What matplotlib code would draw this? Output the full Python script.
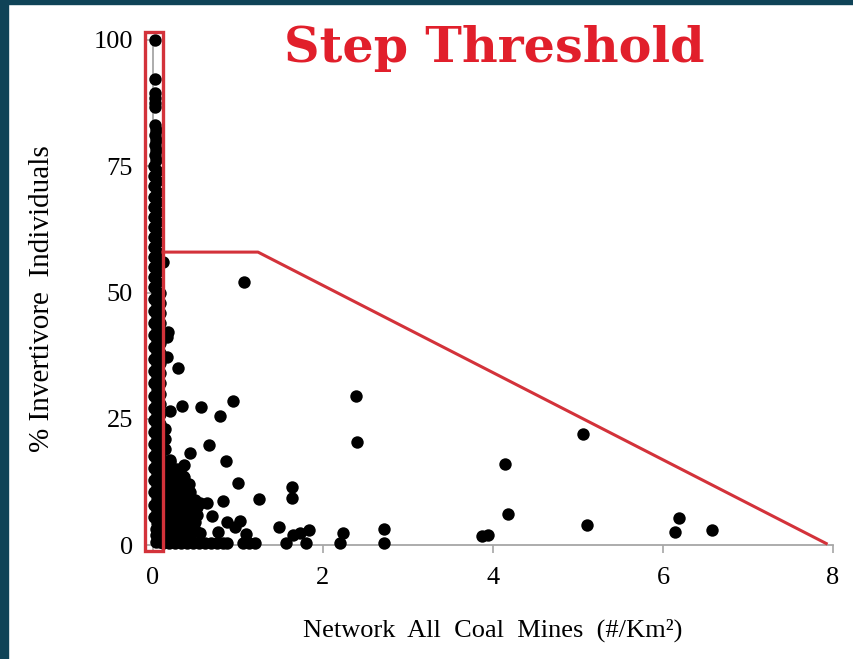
import matplotlib.pyplot as plt
from matplotlib.patches import Rectangle

# dense column of sites right at ~0 mines/km2
column_x = [0.02, 0.02, 0.02, 0.02, 0.02, 0.02, 0.02, 0.03, 0.02, 0.03,
            0.02, 0.03, 0.02, 0.03, 0.01, 0.05, 0.01, 0.05, 0.01, 0.05,
            0.01, 0.05, 0.01, 0.05, 0.01, 0.05, 0.01, 0.05, 0.01, 0.05,
            0.01, 0.05, 0.01, 0.05, 0.01, 0.05, 0.01, 0.05, 0.01, 0.05,
            0.01, 0.05, 0.01, 0.05, 0.01, 0.05, 0.01, 0.05, 0.01, 0.05,
            0.01, 0.05, 0.01, 0.05, 0.01, 0.05, 0.01, 0.05, 0.01, 0.05,
            0.01, 0.05, 0.01, 0.05, 0.01, 0.05, 0.01, 0.05, 0.01, 0.05,
            0.01, 0.05, 0.01, 0.05, 0.01, 0.05, 0.01, 0.05]
column_y = [100, 92.3, 89.6, 88.6, 87.6, 86.7, 83.2, 82.2, 81.2, 80.2,
            79.2, 78.2, 77.2, 76.2, 75, 74, 73, 72, 71, 70,
            69, 68, 67, 66, 65, 64, 63, 62, 61, 60,
            59, 58, 57, 56, 55, 54, 53, 52, 51, 50,
            48.8, 47.6, 46.4, 45.2, 44, 42.8, 41.6, 40.4, 39.2, 38,
            36.8, 35.6, 34.4, 33.2, 32, 30.8, 29.6, 28.4, 27.2, 26,
            24.8, 23.6, 22.4, 21.2, 20, 18.8, 17.6, 16.4, 15.2, 14,
            12.8, 11.6, 10.4, 9.2, 8, 6.8, 5.6, 4.4]
column2_x = [0.08, 0.08, 0.08, 0.08, 0.08, 0.08, 0.08, 0.08, 0.08, 0.08,
             0.08, 0.08, 0.08, 0.08, 0.08, 0.08, 0.08, 0.08, 0.08, 0.08,
             0.08, 0.08, 0.08, 0.08, 0.08, 0.08, 0.03, 0.03, 0.03]
column2_y = [50, 48, 46, 44, 42, 40, 38, 36, 34, 32,
             30, 28, 26, 24, 22, 20, 18, 16, 14, 12,
             10, 8, 6, 4, 2, 0.5, 3.2, 2, 0.6]

# low-density wedge next to the column
wedge_x = [0.12, 0.2,
           0.12, 0.2, 0.28,
           0.12, 0.2, 0.28, 0.36,
           0.12, 0.2, 0.28, 0.36, 0.42,
           0.12, 0.2, 0.28, 0.36, 0.44,
           0.12, 0.2, 0.28, 0.36, 0.44, 0.5,
           0.12, 0.2, 0.28, 0.36, 0.44, 0.52,
           0.12, 0.2, 0.28, 0.36, 0.44, 0.52,
           0.12, 0.2, 0.28, 0.36, 0.44, 0.5,
           0.12, 0.2, 0.28, 0.36, 0.44, 0.5,
           0.12, 0.2, 0.28, 0.36, 0.44,
           0.12, 0.19, 0.26, 0.33, 0.4, 0.47, 0.54, 0.61, 0.68, 0.75, 0.82, 0.87]
wedge_y = [16.5, 16.5,
           15, 15, 15,
           13.5, 13.5, 13.5, 13.5,
           12, 12, 12, 12, 12,
           10.5, 10.5, 10.5, 10.5, 10.5,
           9, 9, 9, 9, 9, 9,
           7.5, 7.5, 7.5, 7.5, 7.5, 7.5,
           6, 6, 6, 6, 6, 6,
           4.5, 4.5, 4.5, 4.5, 4.5, 4.5,
           3, 3, 3, 3, 3, 3,
           1.5, 1.5, 1.5, 1.5, 1.5,
           0.3, 0.3, 0.3, 0.3, 0.3, 0.3, 0.3, 0.3, 0.3, 0.3, 0.3, 0.3]

# scattered sites
scatter_x = [0.12, 0.18, 0.17, 0.17, 0.3, 1.07,
             0.2, 0.34, 0.565, 0.945, 0.79,
             0.14, 0.14, 0.14, 0.66, 0.43, 0.86, 0.36, 0.35, 0.2,
             1.0, 1.25, 0.82, 1.63, 1.64, 0.63, 0.55,
             0.7, 0.87, 0.96, 1.09, 1.02, 0.55, 0.77, 0.47,
             1.48, 1.57, 1.65, 1.73, 1.83, 1.8,
             1.06, 1.13, 1.2,
             2.23, 2.2, 2.72, 2.72, 2.39, 2.4,
             3.87, 3.94, 4.14, 4.18, 5.06, 5.11, 6.19, 6.14, 6.58]
scatter_y = [56, 42.2, 41.2, 37.3, 35, 52.1,
             26.6, 27.6, 27.4, 28.5, 25.5,
             23, 21, 19, 19.9, 18.2, 16.6, 15.8, 13.7, 16.8,
             12.2, 9.1, 8.7, 11.4, 9.4, 8.4, 8.4,
             5.7, 4.6, 3.6, 2.2, 4.8, 2.3, 2.6, 5.0,
             3.6, 0.3, 2.0, 2.3, 3.0, 0.3,
             0.3, 0.3, 0.3,
             2.3, 0.3, 3.2, 0.3, 29.6, 20.3,
             1.8, 1.9, 16.0, 6.1, 21.9, 4.0, 5.4, 2.6, 3.0]

# threshold outline (box around the step, then decline)
step_x = [0.118, 1.235, 7.92]
step_y = [58, 58, 0.3]

xticks = [0, 2, 4, 6, 8]
yticks = [0, 25, 50, 75, 100]

plt.rcParams['font.family'] = ['Liberation Serif', 'DejaVu Serif']

fig = plt.figure(figsize=(8.54, 6.59), dpi=100)
fig.patch.set_facecolor('white')
# dark frame strips of the slide
fig.patches.append(Rectangle((0, 0), 8 / 854, 1, transform=fig.transFigure,
                             color='#0f4357', zorder=0))
fig.patches.append(Rectangle((0, 1 - 4 / 659), 1, 4 / 659, transform=fig.transFigure,
                             color='#0f4357', zorder=0))

ax = fig.add_axes([153 / 854, 114 / 659, 680 / 854, 505 / 659])
ax.set_xlim(0, 8)
ax.set_ylim(0, 100)

dot = dict(s=80, color='black', linewidths=0, clip_on=False, zorder=3)
ax.scatter(column_x, column_y, **dot)
ax.scatter(column2_x, column2_y, **dot)
ax.scatter(wedge_x, wedge_y, **dot)
ax.scatter(scatter_x, scatter_y, **dot)

red = '#d3323a'
ax.add_patch(Rectangle((-0.094, -1.2), 0.212, 102.8, fill=False, edgecolor=red,
                       linewidth=2.4, clip_on=False, zorder=4))
ax.plot(step_x, step_y, color=red, linewidth=2.2, clip_on=False, zorder=4)

for side in ['top', 'right']:
    ax.spines[side].set_visible(False)
for side in ['left', 'bottom']:
    ax.spines[side].set_color('#a6a6a6')
    ax.spines[side].set_linewidth(1.3)
ax.set_xticks(xticks)
ax.set_yticks(yticks)
ax.tick_params(axis='both', colors='#a6a6a6', labelcolor='black', labelsize=19,
               length=6, width=1.2)
ax.tick_params(axis='x', pad=10)
ax.tick_params(axis='y', pad=8.5)

fig.text(42 / 854, 1 - 299 / 659, '% Invertivore  Individuals', rotation=90,
         ha='center', va='center', fontsize=21)
fig.text(493 / 854, 1 - 630 / 659, 'Network  All  Coal  Mines  (#/Km²)',
         ha='center', va='center', fontsize=19)
fig.text(494 / 854, 1 - 48 / 659, 'Step Threshold', ha='center', va='center',
         fontsize=35.5, fontweight='bold', color='#e11f2b', family=['DejaVu Serif'])

plt.savefig('out.png', dpi=100)
